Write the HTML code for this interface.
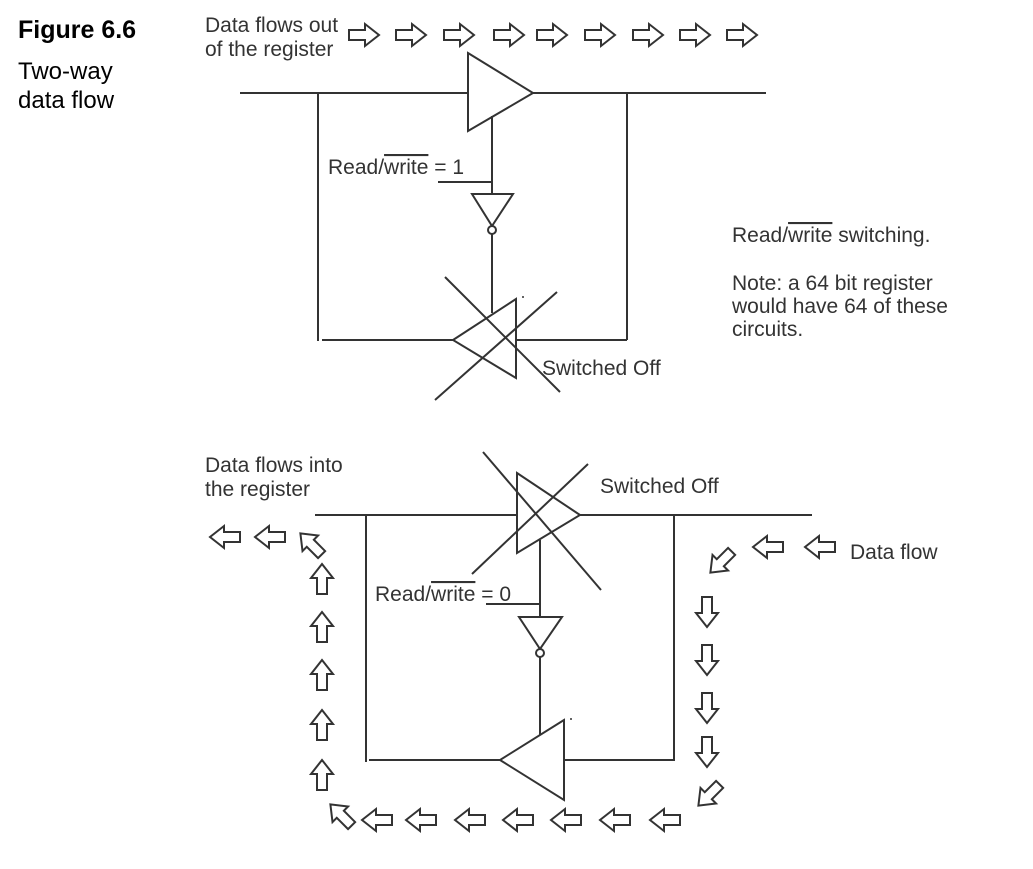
<!DOCTYPE html>
<html><head><meta charset="utf-8"><style>
html,body{margin:0;padding:0;background:#fff;}
svg{display:block;}
text{font-family:"Liberation Sans",sans-serif;fill:#333;font-size:21px;}
.ov{text-decoration:overline;}
</style></head><body>
<svg width="1033" height="869" viewBox="0 0 1033 869" xmlns="http://www.w3.org/2000/svg">
<defs>
<path id="ar" d="M0,6 H16 V0 L30,11 L16,22 V16 H0 Z" fill="#fff" stroke="#333" stroke-width="2" stroke-linejoin="miter"/>
</defs>
<text x="18" y="38" style="font-size:25px;font-weight:bold;fill:#000">Figure 6.6</text>
<text x="18" y="79" style="font-size:24px;fill:#000">Two-way</text>
<text x="18" y="108" style="font-size:24px;fill:#000">data flow</text>

<text x="205" y="32">Data flows out</text>
<text x="205" y="56">of the register</text>
<g>
<use href="#ar" transform="translate(364,35) translate(-15,-11)"/>
<use href="#ar" transform="translate(411,35) translate(-15,-11)"/>
<use href="#ar" transform="translate(459,35) translate(-15,-11)"/>
<use href="#ar" transform="translate(509,35) translate(-15,-11)"/>
<use href="#ar" transform="translate(552,35) translate(-15,-11)"/>
<use href="#ar" transform="translate(600,35) translate(-15,-11)"/>
<use href="#ar" transform="translate(648,35) translate(-15,-11)"/>
<use href="#ar" transform="translate(695,35) translate(-15,-11)"/>
<use href="#ar" transform="translate(742,35) translate(-15,-11)"/>
</g>

<g stroke="#333" stroke-width="2" fill="none">
<line x1="240" y1="93" x2="468" y2="93"/>
<line x1="533" y1="93" x2="766" y2="93"/>
<polygon points="468,53 533,93 468,131" fill="#fff"/>
<line x1="318" y1="93" x2="318" y2="341"/>
<line x1="627" y1="93" x2="627" y2="340"/>
<line x1="492" y1="116" x2="492" y2="194"/>
<line x1="438" y1="182" x2="492" y2="182"/>
<polygon points="472,194 513,194 492,226" fill="#fff"/>
<circle cx="492" cy="230" r="4" fill="#fff"/>
<line x1="492" y1="234" x2="492" y2="313"/>
<polygon points="516,299 453,340 516,378" fill="#fff"/>
<line x1="322" y1="340" x2="453" y2="340"/>
<line x1="516" y1="340" x2="627" y2="340"/>
<line x1="445" y1="277" x2="560" y2="392"/>
<line x1="557" y1="292" x2="435" y2="400"/>

<line x1="315" y1="515" x2="517" y2="515"/>
<line x1="580" y1="515" x2="812" y2="515"/>
<polygon points="517,473 580,515 517,553" fill="none"/>
<line x1="366" y1="515" x2="366" y2="762"/>
<line x1="674" y1="515" x2="674" y2="761"/>
<line x1="540" y1="540" x2="540" y2="617"/>
<line x1="486" y1="604" x2="540" y2="604"/>
<polygon points="519,617 562,617 540,649" fill="#fff"/>
<circle cx="540" cy="653" r="4" fill="#fff"/>
<line x1="540" y1="657" x2="540" y2="735"/>
<polygon points="564,720 500,760 564,800" fill="#fff"/>
<line x1="369" y1="760" x2="500" y2="760"/>
<line x1="564" y1="760" x2="674" y2="760"/>
<line x1="483" y1="452" x2="601" y2="590"/>
<line x1="472" y1="574" x2="588" y2="464"/>
</g>
<circle cx="523" cy="297" r="1" fill="#333"/>
<circle cx="571" cy="719" r="1" fill="#333"/>

<text x="328" y="174">Read/<tspan class="ov">write</tspan> = 1</text>
<text x="542" y="375">Switched Off</text>
<text x="732" y="242">Read/<tspan class="ov">write</tspan> switching.</text>
<text x="732" y="290">Note: a 64 bit register</text>
<text x="732" y="313">would have 64 of these</text>
<text x="732" y="336">circuits.</text>

<text x="205" y="472">Data flows into</text>
<text x="205" y="496">the register</text>
<text x="600" y="493">Switched Off</text>
<text x="375" y="601">Read/<tspan class="ov">write</tspan> = 0</text>
<text x="850" y="559">Data flow</text>

<g>
<use href="#ar" transform="translate(225,537) rotate(180) translate(-15,-11)"/>
<use href="#ar" transform="translate(270,537) rotate(180) translate(-15,-11)"/>
<use href="#ar" transform="translate(311,544) rotate(-135) translate(-15,-11)"/>
<use href="#ar" transform="translate(322,579) rotate(-90) translate(-15,-11)"/>
<use href="#ar" transform="translate(322,627) rotate(-90) translate(-15,-11)"/>
<use href="#ar" transform="translate(322,675) rotate(-90) translate(-15,-11)"/>
<use href="#ar" transform="translate(322,725) rotate(-90) translate(-15,-11)"/>
<use href="#ar" transform="translate(322,775) rotate(-90) translate(-15,-11)"/>
<use href="#ar" transform="translate(341,815) rotate(-135) translate(-15,-11)"/>
<use href="#ar" transform="translate(377,820) rotate(180) translate(-15,-11)"/>
<use href="#ar" transform="translate(421,820) rotate(180) translate(-15,-11)"/>
<use href="#ar" transform="translate(470,820) rotate(180) translate(-15,-11)"/>
<use href="#ar" transform="translate(518,820) rotate(180) translate(-15,-11)"/>
<use href="#ar" transform="translate(566,820) rotate(180) translate(-15,-11)"/>
<use href="#ar" transform="translate(615,820) rotate(180) translate(-15,-11)"/>
<use href="#ar" transform="translate(665,820) rotate(180) translate(-15,-11)"/>
<use href="#ar" transform="translate(709,795) rotate(135) translate(-15,-11)"/>
<use href="#ar" transform="translate(707,752) rotate(90) translate(-15,-11)"/>
<use href="#ar" transform="translate(707,708) rotate(90) translate(-15,-11)"/>
<use href="#ar" transform="translate(707,660) rotate(90) translate(-15,-11)"/>
<use href="#ar" transform="translate(707,612) rotate(90) translate(-15,-11)"/>
<use href="#ar" transform="translate(721,562) rotate(135) translate(-15,-11)"/>
<use href="#ar" transform="translate(768,547) rotate(180) translate(-15,-11)"/>
<use href="#ar" transform="translate(820,547) rotate(180) translate(-15,-11)"/>
</g>
</svg>
</body></html>
